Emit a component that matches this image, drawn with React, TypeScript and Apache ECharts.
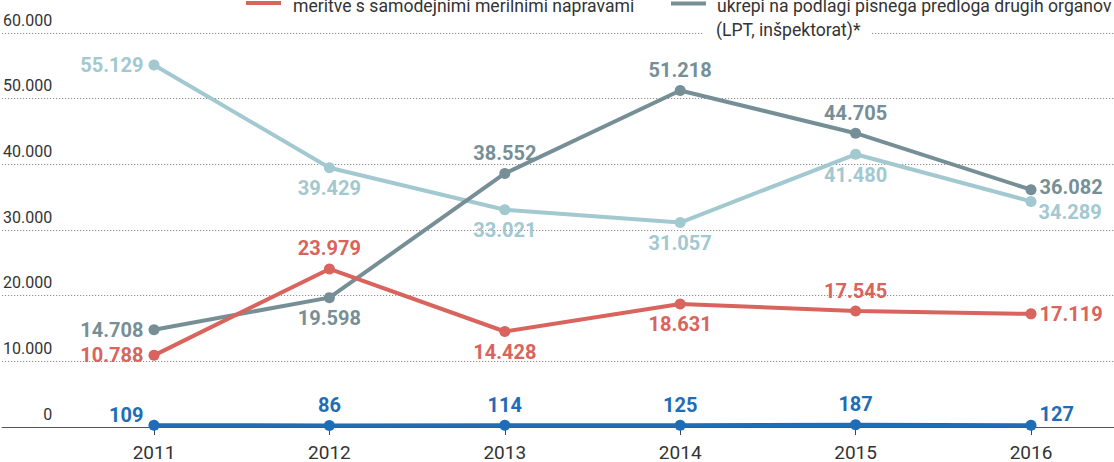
import React, { useEffect, useRef } from "react";
import * as echarts from "echarts";

const years = ["2011", "2012", "2013", "2014", "2015", "2016"];
const lightBlueValues = [55129, 39429, 33021, 31057, 41480, 34289];
const grayValues = [14708, 19598, 38552, 51218, 44705, 36082];
const redValues = [10788, 23979, 14428, 18631, 17545, 17119];
const blueValues = [109, 86, 114, 125, 187, 127];
const yMin = 0;
const yMax = 60000;
const yStep = 10000;

const legendRed = "meritve s samodejnimi merilnimi napravami";
const legendGray1 = "ukrepi na podlagi pisnega predloga drugih organov";
const legendGray2 = "(LPT, inšpektorat)*";

const C_LB = "#a2c8d0";
const C_GRAY = "#768f96";
const C_RED = "#d8645d";
const C_BLUE = "#1f6db6";
const C_TEXT = "#333333";

const fmt = (v: number) => String(v).replace(/\B(?=(\d{3})+(?!\d))/g, ".");

function makeSeries(
  name: string,
  values: number[],
  color: string,
  positions: string[],
  offsets: number[][]
) {
  return {
    type: "line",
    name,
    xAxisIndex: 1,
    yAxisIndex: 1,
    data: values.map((v, i) => ({
      value: v,
      label: { position: positions[i], offset: offsets[i] || [0, 0] },
    })),
    symbol: "circle",
    symbolSize: 11,
    showSymbol: true,
    lineStyle: { color, width: 4 },
    itemStyle: { color },
    label: {
      show: true,
      color,
      fontSize: 20,
      fontWeight: "bold",
      fontFamily: "Roboto",
      distance: 5,
      formatter: (p: any) => fmt(p.value),
    },
    emphasis: { disabled: true },
  };
}

export default function App() {
  const ref = useRef<HTMLDivElement>(null);
  useEffect(() => {
    document.body.style.margin = "0";
    if (!ref.current) return;
    const chart = echarts.init(ref.current, null, { renderer: "svg" });
    const option: any = {
      animation: false,
      backgroundColor: "#ffffff",
      grid: [
        { left: 0, right: 0, top: 33, bottom: 35 },
        { left: 154, right: 83, top: 33, bottom: 35 },
      ],
      xAxis: [
        {
          gridIndex: 0,
          type: "value",
          min: 0,
          max: 1,
          axisLine: { show: true, lineStyle: { color: "#555", width: 1.2 } },
          axisTick: { show: false },
          axisLabel: { show: false },
          splitLine: { show: false },
        },
        {
          gridIndex: 1,
          type: "category",
          data: years,
          boundaryGap: false,
          axisLine: { show: false },
          axisTick: { show: true, length: 9, lineStyle: { color: "#444", width: 1 } },
          axisLabel: {
            color: C_TEXT,
            fontSize: 19,
            fontFamily: "Roboto",
            lineHeight: 15,
            margin: 19,
          },
          splitLine: { show: false },
        },
      ],
      yAxis: [
        {
          gridIndex: 0,
          type: "value",
          min: yMin,
          max: yMax,
          interval: yStep,
          axisLine: { show: false },
          axisTick: { show: false },
          axisLabel: {
            inside: true,
            align: "right",
            verticalAlign: "bottom",
            margin: 50,
            color: C_TEXT,
            fontSize: 16,
            fontFamily: "Roboto",
            lineHeight: 16,
            padding: [0, 0, 5, 0],
            formatter: (v: number) => fmt(v),
          },
          splitLine: {
            show: true,
            showMinLine: false,
            lineStyle: { color: "#777", width: 1, type: [1, 2] },
          },
        },
        {
          gridIndex: 1,
          type: "value",
          min: yMin,
          max: yMax,
          interval: yStep,
          show: false,
          splitLine: { show: false },
        },
      ],
      series: [
        makeSeries(
          "lightblue",
          lightBlueValues,
          C_LB,
          ["left", "bottom", "bottom", "bottom", "bottom", "right"],
          [[0, 0], [0, 0], [0, 0], [0, 0], [0, 0], [-3, 11]]
        ),
        makeSeries(
          "gray",
          grayValues,
          C_GRAY,
          ["left", "bottom", "top", "top", "top", "right"],
          [[0, 0], [0, 0], [0, 0], [0, 0], [0, 0], [-2, -3]]
        ),
        makeSeries(
          "red",
          redValues,
          C_RED,
          ["left", "top", "bottom", "bottom", "top", "right"],
          [[0, 0], [0, 0], [0, 0], [0, 0], [0, 0], [-2, 0]]
        ),
        makeSeries(
          "blue",
          blueValues,
          C_BLUE,
          ["left", "top", "top", "top", "top", "right"],
          [[0, -10], [0, 0], [0, 0], [0, 0], [0, 0], [-2, -11]]
        ),
      ],
      graphic: [
        {
          type: "line",
          z: 100,
          shape: { x1: 246, y1: 3, x2: 281, y2: 3 },
          style: { stroke: C_RED, lineWidth: 4 },
        },
        {
          type: "text",
          z: 100,
          x: 293,
          y: 6,
          style: {
            text: legendRed,
            font: "17.6px Roboto",
            fill: C_TEXT,
            verticalAlign: "middle",
          },
        },
        {
          type: "line",
          z: 100,
          shape: { x1: 671, y1: 3.5, x2: 706, y2: 3.5 },
          style: { stroke: C_GRAY, lineWidth: 4 },
        },
        {
          type: "text",
          z: 100,
          x: 717,
          y: 6,
          style: {
            text: legendGray1,
            font: "17.6px Roboto",
            fill: C_TEXT,
            verticalAlign: "middle",
          },
        },
        {
          type: "text",
          z: 100,
          x: 703,
          y: 30,
          style: {
            text: legendGray2,
            font: "17.6px Roboto",
            fill: C_TEXT,
            verticalAlign: "middle",
            backgroundColor: "#ffffff",
            padding: [3, 10, 3, 13],
          },
        },
      ],
    };
    chart.setOption(option);
    return () => chart.dispose();
  }, []);
  return <div ref={ref} style={{ width: 1114, height: 462 }} />;
}
